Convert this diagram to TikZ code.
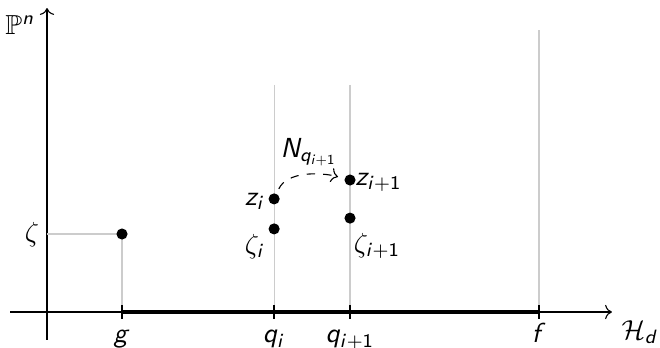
\documentclass[tikz,border=0pt]{standalone}
\usepackage{amsmath,amssymb}
\usepackage{tikz}
\usetikzlibrary{arrows.meta,calc}
% sans serif italic letters in math, greek stays serif
\DeclareSymbolFont{sfletters}{OT1}{cmss}{m}{sl}
\DeclareSymbolFont{sfupright}{OT1}{cmss}{m}{n}
\DeclareMathSymbol{n}{\mathalpha}{sfletters}{`n}
\DeclareMathSymbol{z}{\mathalpha}{sfletters}{`z}
\DeclareMathSymbol{i}{\mathalpha}{sfletters}{`i}
\DeclareMathSymbol{q}{\mathalpha}{sfletters}{`q}
\DeclareMathSymbol{g}{\mathalpha}{sfletters}{`g}
\DeclareMathSymbol{f}{\mathalpha}{sfletters}{`f}
\DeclareMathSymbol{d}{\mathalpha}{sfletters}{`d}
\DeclareMathSymbol{N}{\mathalpha}{sfletters}{`N}
\DeclareMathSymbol{+}{\mathbin}{sfupright}{`+}
\DeclareMathSymbol{1}{\mathalpha}{sfupright}{`1}
\tikzset{
  guide/.style={black!20, line width=0.4pt},
  tickmark/.style={line width=0.8pt},
}

\begin{document}
\begin{tikzpicture}[x=0.383cm, y=0.383cm]
    \useasboundingbox (-1.567, -1.167) rectangle (20.433, 10.4);
    % Axes
    \draw[->] (-1.23, 0) -- (18.83, 0);
    \draw[->] (0, -0.93) -- (0, 10.13);
    \node (Hd) at (19.77, -0.67) {$\mathcal{H}_d$};
    \node (Pn) at (-0.9, 9.55) {$\mathbb{P}^n$};

    % Points on the base
    \coordinate (G) at (2.5, 0);
    \coordinate (Qi) at (7.57, 0);
    \coordinate (Qj) at (10.1, 0);
    \coordinate (F) at (16.4, 0);

    % Guide lines
    \draw[guide] (0, 2.6) -- (2.5, 2.6) -- (G);
    \draw[guide] (7.57, 7.57) -- (Qi);
    \draw[guide] (10.1, 7.57) -- (Qj);
    \draw[guide] (16.4, 9.4) -- (F);

    % Thick segment from g to f
    \draw[ultra thick] (G) -- (F);
    \foreach \p in {G, Qi, Qj, F}
        \draw[tickmark] ($(\p)+(0,0.23)$) -- ($(\p)+(0,-0.23)$);

    \node[anchor=base] (gl) at (2.5, -1.03) {$g$};
    \node[anchor=base] (qil) at (7.57, -1.03) {$q_i$};
    \node[anchor=base] (qjl) at (10.1, -1.03) {$q_{i+1}$};
    \node[anchor=base] (fl) at (16.4, -1.03) {$f$};

    % Fibre points
    \filldraw (2.5, 2.6) circle (1.8pt) coordinate (Zeta);
    \node (zetal) at (-0.5, 2.57) {$\zeta$};
    \filldraw (7.57, 3.77) circle (1.8pt) coordinate (Zi);
    \filldraw (7.57, 2.77) circle (1.8pt) coordinate (ZetaI);
    \filldraw (10.1, 4.4) circle (1.8pt) coordinate (Zj);
    \filldraw (10.1, 3.13) circle (1.8pt) coordinate (ZetaJ);
    \node (zil) at (6.93, 3.7) {$z_i$};
    \node (zjl) at (11.05, 4.33) {$z_{i+1}$};
    \node (zetail) at (6.93, 2.17) {$\zeta_i$};
    \node (zetajl) at (11.0, 2.2) {$\zeta_{i+1}$};

    % Newton step
    \draw[->, dashed, shorten <=4pt, shorten >=4.5pt] (Zi) to[out=65, in=165] (Zj);
    \node (Nq) at (8.73, 5.33) {$N_{q_{i+1}}$};
\end{tikzpicture}
\end{document}
